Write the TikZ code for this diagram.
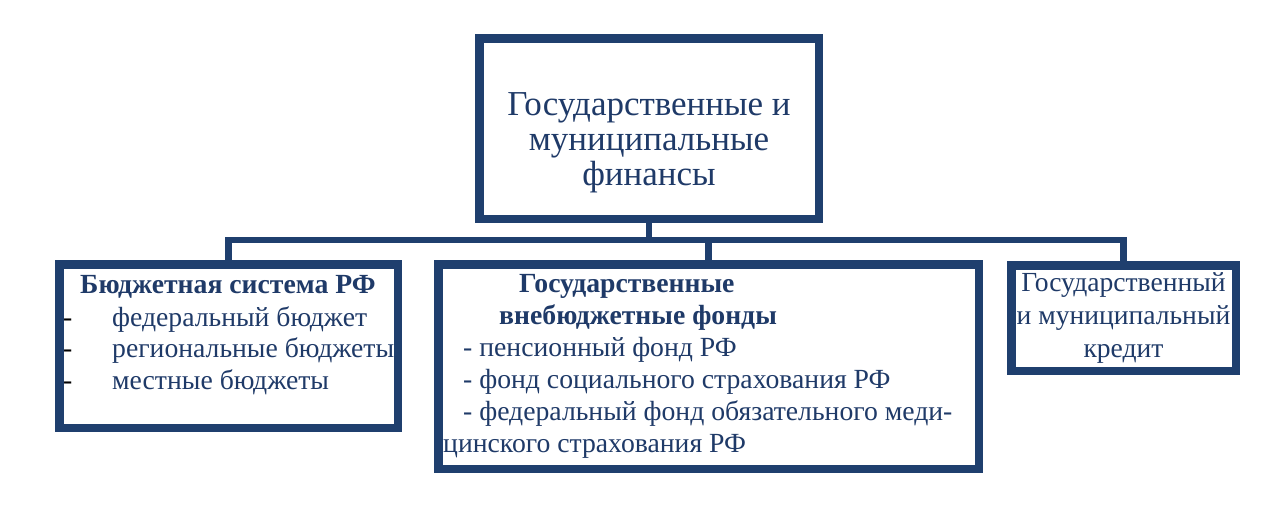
\documentclass[tikz,border=0pt]{standalone}
\usepackage{fontspec}
\setmainfont{Liberation Serif}
\usetikzlibrary{shadows,backgrounds}
\definecolor{navy}{HTML}{1F3F6E}
\definecolor{txt}{HTML}{1F3A68}
\begin{document}
\begin{tikzpicture}[x=1pt,y=-1pt,
  box/.style={draw=navy, line width=8.5pt, fill=white, rectangle, inner sep=0pt,
    drop shadow={opacity=0.18, shadow xshift=2pt, shadow yshift=-3pt}},
  conn/.style={draw=navy, line width=6.5pt, line join=miter},
  ln/.style={anchor=base west, inner sep=0pt, text=txt, font=\fontsize{27.7}{32}\selectfont},
  lnc/.style={anchor=base, inner sep=0pt, text=txt, font=\fontsize{27.6}{32}\selectfont},
  lnb/.style={ln, font=\fontsize{27.7}{32}\selectfont\bfseries},
  dashtxt/.style={anchor=base west, inner sep=0pt, text=black, font=\fontsize{27.7}{32}\selectfont},
  toptext/.style={anchor=base, inner sep=0pt, text=txt, font=\fontsize{35}{40}\selectfont}]
\useasboundingbox (0,0) rectangle (1280,517);
\coordinate (bus) at (0,240);
\node[box, minimum width=339.5, minimum height=180.5] (top) at (649,128.5) {};
\node[box, minimum width=338.5, minimum height=163.5] (left) at (228.5,346) {};
\node[box, minimum width=540.5, minimum height=204.5] (mid) at (708.5,366.5) {};
\node[box, minimum width=224.5, minimum height=105.5] (right) at (1123.5,318) {};
\begin{scope}[on background layer]
\draw[conn] (left.north) -- (left.north |- bus) -- (right.north |- bus) -- (right.north);
\draw[conn] (top.south) -- (top.south |- bus);
\draw[conn] (mid.north) -- (mid.north |- bus);
\end{scope}
% top text
\node[toptext] (t1) at (649,115) {Государственные и};
\node[toptext] (t2) at (649,150) {муниципальные};
\node[toptext] (t3) at (649,185) {финансы};
% left text
\node[lnb] (l0) at (80,293) {Бюджетная система РФ};
\node[dashtxt] (d1) at (63,326) {-};
\node[dashtxt] (d2) at (63,357) {-};
\node[dashtxt] (d3) at (63,389) {-};
\node[ln] (l1) at (112,326) {федеральный бюджет};
\node[ln] (l2) at (112,357) {региональные бюджеты};
\node[ln] (l3) at (112,389) {местные бюджеты};
% middle text
\node[lnb] (m1) at (519,292) {Государственные};
\node[lnb] (m2) at (499,324) {внебюджетные фонды};
\node[ln] (m3) at (463,356) {- пенсионный фонд РФ};
\node[ln] (m4) at (463,388) {- фонд социального страхования РФ};
\node[ln] (m5) at (463,420) {- федеральный фонд обязательного меди-};
\node[ln] (m6) at (443,452) {цинского страхования РФ};
% right text
\node[lnc] (r1) at (1123.5,291) {Государственный};
\node[lnc] (r2) at (1123.5,324) {и муниципальный};
\node[lnc] (r3) at (1123.5,357) {кредит};
\end{tikzpicture}
\end{document}
